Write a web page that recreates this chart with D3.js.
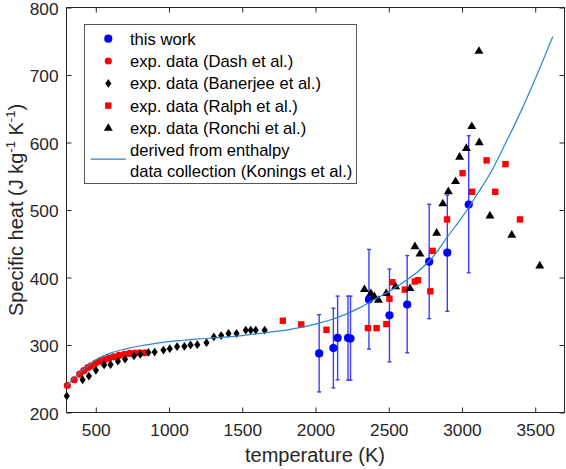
<!DOCTYPE html>
<html><head><meta charset="utf-8">
<script src="https://cdn.jsdelivr.net/npm/d3@7"></script>
<style>body{margin:0;background:#fff}svg{display:block;font-family:"Liberation Sans",Arial,sans-serif}</style>
</head><body><svg id="c" width="566" height="469"></svg>
<script>
// ---- data ----
const xTicks = [500, 1000, 1500, 2000, 2500, 3000, 3500];
const yTicks = [200, 300, 400, 500, 600, 700, 800];

const workT  = [2025, 2122, 2151, 2222, 2239, 2365, 2505, 2626, 2776, 2900, 3046];
const workCp = [287.5, 295.5, 310.5, 310.5, 309.5, 367.5, 344, 360, 423.5, 437, 508];
const workHi = [345, 354.5, 372.5, 372.5, 372.5, 441.5, 412.5, 432.5, 508.5, 522, 610];
const workLo = [230.5, 236.5, 248.5, 248, 248, 294, 275, 288.5, 339, 350, 407];

const dashT  = [306, 352, 390, 418, 445, 468, 497, 528, 560, 590, 622, 658, 695, 730, 765, 800, 835];
const dashCp = [240, 248.5, 257, 262, 266.5, 269, 273, 276, 278, 280.5, 282.5, 284.5, 286, 287.5, 288, 288.5, 288.5];

const banT  = [302, 410, 453, 501, 557, 601, 651, 700, 761, 804, 859, 902, 962, 1005, 1055, 1105, 1147, 1193, 1256, 1306, 1356, 1406, 1461, 1524, 1558, 1592, 1653];
const banCp = [224.5, 248.5, 254, 262.5, 270.5, 271, 276, 279, 284, 286, 289, 289.5, 292.5, 294.5, 297.5, 298, 300, 300.5, 303.5, 312, 314, 317, 317, 322, 322, 322, 322];

const ralphT  = [1777, 1903, 2075, 2358, 2417, 2484, 2505, 2524, 2610, 2678, 2700, 2784, 2800, 2898, 3004, 3069, 3168, 3227, 3297, 3396];
const ralphCp = [336, 330.5, 322.5, 325, 325, 331, 368.5, 393, 382, 394, 396, 379.5, 439.5, 486, 554.5, 527, 573.5, 527, 568, 486];

const ronchiT  = [2334, 2378, 2402, 2430, 2483, 2547, 2645, 2679, 2713, 2827, 2869, 2907, 2956, 2984, 3030, 3067, 3116, 3118, 3191, 3340, 3531];
const ronchiCp = [383, 377, 372, 367, 377, 387, 384.5, 446.5, 435.5, 466.5, 510, 528, 543, 579, 592, 624.5, 736, 600.5, 492, 463.5, 418];

const konT  = [300, 350, 400, 450, 500, 600, 700, 800, 900, 1000, 1100, 1200, 1300, 1400, 1500, 1600, 1700, 1800, 1900, 2000, 2100, 2200, 2300, 2400, 2500, 2600, 2700, 2800, 2900, 3000, 3100, 3200, 3300, 3400, 3500, 3620];
const konCp = [239, 251, 261, 270, 278, 288, 294, 298.5, 302, 305, 307, 309, 310.5, 312, 314, 316.5, 319.5, 322, 326, 331, 337, 345, 355, 367, 379, 393, 409, 430, 460, 489, 522, 557, 600, 645, 694, 757];

const legendLabels = ["this work", "exp. data (Dash et al.)", "exp. data (Banerjee et al.)", "exp. data (Ralph et al.)", "exp. data (Ronchi et al.)"];
const legendLine = ["derived from enthalpy", "data collection (Konings et al.)"];

// ---- chart ----
const svg = d3.select("#c");
const x = d3.scaleLinear().domain([300, 3700]).range([66.5, 564.5]);
const y = d3.scaleLinear().domain([200, 800]).range([412.5, 7.5]);
const axisCol = "#262626";

const zip = (a, b) => a.map((v, i) => [v, b[i]]);

// axes
const gx = svg.append("g").attr("transform", "translate(0,412.5)")
  .call(d3.axisBottom(x).tickValues(xTicks).tickFormat(d3.format("d")).tickSizeInner(-5).tickSizeOuter(0).tickPadding(11));
const gy = svg.append("g").attr("transform", "translate(66.5,0)")
  .call(d3.axisLeft(y).tickValues(yTicks).tickFormat(d3.format("d")).tickSizeInner(-5).tickSizeOuter(0).tickPadding(8));
const gt = svg.append("g").attr("transform", "translate(0,7.5)")
  .call(d3.axisTop(x).tickValues(xTicks).tickSizeInner(-5).tickSizeOuter(0).tickFormat(""));
const gr = svg.append("g").attr("transform", "translate(564.5,0)")
  .call(d3.axisRight(y).tickValues(yTicks).tickSizeInner(-5).tickSizeOuter(0).tickFormat(""));
[gx, gy, gt, gr].forEach(g => {
  g.select(".domain").remove();
  g.selectAll("line").attr("stroke", axisCol);
  g.selectAll("text").attr("fill", axisCol).attr("font-size", 17.3).attr("font-family", "Liberation Sans, Arial, sans-serif");
});
gy.selectAll("text").attr("dy", "0.38em");
svg.append("rect").attr("x", 66.5).attr("y", 7.5).attr("width", 498).attr("height", 405)
  .attr("fill", "none").attr("stroke", axisCol).attr("stroke-width", 1);

// axis labels
svg.append("text").attr("x", 315).attr("y", 462).attr("text-anchor", "middle")
  .attr("font-size", 20).attr("fill", axisCol).text("temperature (K)");
const yl = svg.append("text").attr("transform", "translate(23,210) rotate(-90)")
  .attr("text-anchor", "middle").attr("font-size", 20).attr("fill", axisCol);
yl.append("tspan").text("Specific heat (J kg");
yl.append("tspan").attr("dy", -8).attr("font-size", 13).text("-1");
yl.append("tspan").attr("dy", 8).text(" K");
yl.append("tspan").attr("dy", -8).attr("font-size", 13).text("-1");
yl.append("tspan").attr("dy", 8).text(")");

// symbols
const diam = (w, h) => `M0,${-h/2}L${w/2},0L0,${h/2}L${-w/2},0Z`;
const tri = (w, h) => `M0,${-h*0.6}L${w/2},${h*0.4}L${-w/2},${h*0.4}Z`;
const R_BLUE = 4.1, R_RED = 3.6, SQ = 6.4, DW = 6.2, DH = 8.8, TW = 9, TH = 7.6;

const plot = svg.append("g");

// this work: error bars
const work = workT.map((t, i) => ({t, v: workCp[i], hi: workHi[i], lo: workLo[i]}));
const eb = plot.append("g").attr("stroke", "#3c3cff").attr("stroke-width", 1.4);
eb.selectAll("line.v").data(work).join("line").attr("class", "v")
  .attr("x1", d => x(d.t)).attr("x2", d => x(d.t)).attr("y1", d => y(d.hi)).attr("y2", d => y(d.lo));
eb.selectAll("line.h").data(work).join("line").attr("class", "h")
  .attr("x1", d => x(d.t) - 2).attr("x2", d => x(d.t) + 2).attr("y1", d => y(d.hi)).attr("y2", d => y(d.hi));
eb.selectAll("line.l").data(work).join("line").attr("class", "l")
  .attr("x1", d => x(d.t) - 2).attr("x2", d => x(d.t) + 2).attr("y1", d => y(d.lo)).attr("y2", d => y(d.lo));
plot.append("g").selectAll("circle").data(work).join("circle")
  .attr("cx", d => x(d.t)).attr("cy", d => y(d.v)).attr("r", R_BLUE).attr("fill", "#0000ff");

// Dash
plot.append("g").selectAll("circle").data(zip(dashT, dashCp)).join("circle")
  .attr("cx", d => x(d[0])).attr("cy", d => y(d[1])).attr("r", R_RED).attr("fill", "#ff0000");
// Banerjee
plot.append("g").selectAll("path").data(zip(banT, banCp)).join("path")
  .attr("transform", d => `translate(${x(d[0])},${y(d[1])})`).attr("d", diam(DW, DH)).attr("fill", "#000");
// Ralph
plot.append("g").selectAll("rect").data(zip(ralphT, ralphCp)).join("rect")
  .attr("x", d => x(d[0]) - SQ/2).attr("y", d => y(d[1]) - SQ/2).attr("width", SQ).attr("height", SQ).attr("fill", "#ff0000");
// Ronchi
plot.append("g").selectAll("path").data(zip(ronchiT, ronchiCp)).join("path")
  .attr("transform", d => `translate(${x(d[0])},${y(d[1])})`).attr("d", tri(TW, TH)).attr("fill", "#000");

// Konings curve
plot.append("path").datum(zip(konT, konCp))
  .attr("d", d3.line().x(d => x(d[0])).y(d => y(d[1])).curve(d3.curveMonotoneX))
  .attr("fill", "none").attr("stroke", "#2a86d1").attr("stroke-width", 1.2);

// legend
const lg = svg.append("g");
lg.append("rect").attr("x", 84.5).attr("y", 24.5).attr("width", 272).attr("height", 159)
  .attr("fill", "#fff").attr("stroke", "#555").attr("stroke-width", 1);
const rows = [38.7, 61, 83.4, 105.6, 127.8];
const lx = 108.3, tx = 130;
lg.append("circle").attr("cx", lx).attr("cy", rows[0]).attr("r", R_BLUE).attr("fill", "#0000ff");
lg.append("circle").attr("cx", lx).attr("cy", rows[1]).attr("r", R_RED).attr("fill", "#ff0000");
lg.append("path").attr("transform", `translate(${lx},${rows[2]})`).attr("d", diam(DW, DH)).attr("fill", "#000");
lg.append("rect").attr("x", lx - SQ/2).attr("y", rows[3] - SQ/2).attr("width", SQ).attr("height", SQ).attr("fill", "#ff0000");
lg.append("path").attr("transform", `translate(${lx},${rows[4]})`).attr("d", tri(TW, TH)).attr("fill", "#000");
legendLabels.forEach((s, i) => {
  lg.append("text").attr("x", tx).attr("y", rows[i]).attr("dy", "0.36em")
    .attr("font-size", 16.6).attr("fill", "#000").text(s);
});
lg.append("line").attr("x1", 90.7).attr("x2", 126).attr("y1", 159.2).attr("y2", 159.2)
  .attr("stroke", "#2a86d1").attr("stroke-width", 1.2);
legendLine.forEach((s, i) => {
  lg.append("text").attr("x", tx).attr("y", [150.4, 171.4][i]).attr("dy", "0.36em")
    .attr("font-size", 16.6).attr("fill", "#000").text(s);
});
</script>
</body></html>
